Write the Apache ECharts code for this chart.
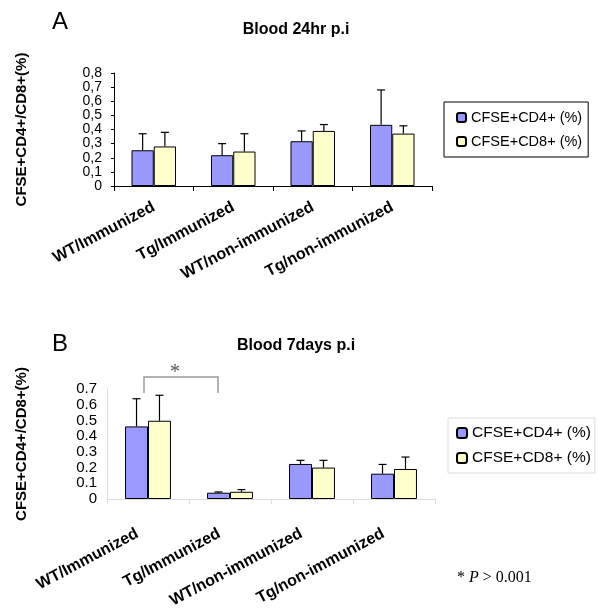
<!DOCTYPE html>
<html>
<head>
<meta charset="utf-8">
<script src="https://cdn.jsdelivr.net/npm/echarts@6/dist/echarts.min.js"></script>
<style>
html,body{margin:0;padding:0;background:#fff;}
#c{width:600px;height:615px;}
</style>
</head>
<body>
<div id="c"></div>
<script>
var categories = ['WT/Immunized', 'Tg/Immunized', 'WT/non-immunized', 'Tg/non-immunized'];
var seriesNames = ['CFSE+CD4+ (%)', 'CFSE+CD8+ (%)'];
// Panel A: Blood 24hr p.i
var aCD4 = [0.253, 0.218, 0.317, 0.433];
var aCD4Err = [0.37, 0.30, 0.39, 0.68];
var aCD8 = [0.28, 0.244, 0.39, 0.371];
var aCD8Err = [0.38, 0.37, 0.435, 0.426];
// Panel B: Blood 7days p.i
var bCD4 = [0.462, 0.04, 0.223, 0.161];
var bCD4Err = [0.638, 0.045, 0.246, 0.22];
var bCD8 = [0.498, 0.046, 0.20, 0.191];
var bCD8Err = [0.66, 0.06, 0.246, 0.267];
var aTicks = ['0', '0,1', '0,2', '0,3', '0,4', '0,5', '0,6', '0,7', '0,8'];
var bTicks = ['0', '0.1', '0.2', '0.3', '0.4', '0.5', '0.6', '0.7'];

var BAR_FRAC = 0.28;
function errSeries(name, xi, yi, vals, tops, side, color) {
  return {
    type: 'custom', name: name + '_err', xAxisIndex: xi, yAxisIndex: yi, z: 1,
    silent: true,
    data: vals.map(function (v, i) { return [i, v, tops[i]]; }),
    renderItem: function (params, api) {
      var p0 = api.coord([api.value(0), api.value(1)]);
      var p1 = api.coord([api.value(0), api.value(2)]);
      var cw = api.size([1, 0])[0];
      var x = p0[0] + side * cw * BAR_FRAC / 2;
      var cap = 4;
      return {
        type: 'group',
        children: [
          {type: 'line', shape: {x1: x, y1: p0[1], x2: x, y2: p1[1]}, style: {stroke: color, lineWidth: 1.2}},
          {type: 'line', shape: {x1: x - cap, y1: p1[1], x2: x + cap, y2: p1[1]}, style: {stroke: color, lineWidth: 1.2}}
        ]
      };
    }
  };
}
function barSeries(name, xi, yi, vals, color) {
  return {
    type: 'bar', name: name, xAxisIndex: xi, yAxisIndex: yi, data: vals, z: 2,
    barWidth: (BAR_FRAC * 100) + '%', barGap: '0%',
    itemStyle: {color: color, borderColor: '#000', borderWidth: 1},
    emphasis: {disabled: true}
  };
}
var FONT = 'Liberation Sans, Arial, sans-serif';
var chart = echarts.init(document.getElementById('c'), null, {renderer: 'canvas'});
var option = {
  animation: false,
  backgroundColor: '#fff',
  textStyle: {fontFamily: FONT},
  title: [
    {text: 'A', left: 47, top: 5, textStyle: {fontSize: 24, fontWeight: 'normal', color: '#000', fontFamily: FONT}},
    {text: 'Blood 24hr p.i', left: 291, top: 17, textAlign: 'center', textStyle: {fontSize: 16, fontWeight: 'bold', color: '#000', fontFamily: FONT}},
    {text: 'B', left: 47, top: 327, textStyle: {fontSize: 24, fontWeight: 'normal', color: '#000', fontFamily: FONT}},
    {text: 'Blood 7days p.i', left: 291, top: 333, textAlign: 'center', textStyle: {fontSize: 16, fontWeight: 'bold', color: '#000', fontFamily: FONT}}
  ],
  legend: [
    {
      data: [seriesNames[0], seriesNames[1]], orient: 'vertical', left: 444, top: 102,
      padding: [8, 6, 8, 12], itemGap: 9,
      borderColor: '#000', borderWidth: 1, itemWidth: 9, itemHeight: 9,
      textStyle: {fontSize: 14.5, color: '#000', fontFamily: FONT}, selectedMode: false
    },
    {
      data: [seriesNames[0], seriesNames[1]], orient: 'vertical', left: 448, top: 418,
      padding: [7, 4, 7, 8], itemGap: 9,
      borderColor: '#ddd', borderWidth: 1, itemWidth: 10, itemHeight: 10,
      textStyle: {fontSize: 15.5, color: '#000', fontFamily: FONT}, selectedMode: false
    }
  ],
  grid: [
    {left: 114, right: 168, top: 73, bottom: 429, containLabel: false},
    {left: 107, right: 165, top: 389, bottom: 116, containLabel: false}
  ],
  xAxis: [
    {
      type: 'category', gridIndex: 0, data: categories,
      axisLine: {lineStyle: {color: '#000', width: 1}},
      axisTick: {show: true, length: 5, lineStyle: {color: '#000'}},
      axisLabel: {rotate: 28, interval: 0, margin: 20, fontSize: 16, fontWeight: 'bold', color: '#000', fontFamily: FONT}
    },
    {
      type: 'category', gridIndex: 1, data: categories,
      axisLine: {lineStyle: {color: '#ddd', width: 1}},
      axisTick: {show: true, length: 5, lineStyle: {color: '#ddd'}},
      axisLabel: {rotate: 28, interval: 0, margin: 28, padding: [0, 12, 0, 0], fontSize: 16, fontWeight: 'bold', color: '#000', fontFamily: FONT}
    }
  ],
  yAxis: [
    {
      type: 'value', gridIndex: 0, min: 0, max: 0.8, interval: 0.1,
      name: 'CFSE+CD4+/CD8+(%)', nameLocation: 'middle', nameGap: 85, nameRotate: 90,
      nameTextStyle: {fontSize: 15, fontWeight: 'bold', color: '#000', fontFamily: FONT},
      axisLine: {show: true, lineStyle: {color: '#000'}},
      axisTick: {show: true, length: 3, lineStyle: {color: '#000'}},
      splitLine: {show: false},
      axisLabel: {margin: 12, fontSize: 14, lineHeight: 11, color: '#000', fontFamily: FONT, showMinLabel: true, showMaxLabel: true, hideOverlap: false,
        formatter: function (v) { return aTicks[Math.round(v * 10)]; }}
    },
    {
      type: 'value', gridIndex: 1, min: 0, max: 0.7, interval: 0.1,
      name: 'CFSE+CD4+/CD8+(%)', nameLocation: 'middle', nameGap: 78, nameRotate: 90,
      nameTextStyle: {fontSize: 15, fontWeight: 'bold', color: '#000', fontFamily: FONT},
      axisLine: {show: true, lineStyle: {color: '#ddd'}},
      axisTick: {show: false},
      splitLine: {show: false},
      axisLabel: {margin: 10, fontSize: 15, color: '#000', fontFamily: FONT, showMinLabel: true, showMaxLabel: true, hideOverlap: false,
        formatter: function (v) { return bTicks[Math.round(v * 10)]; }}
    }
  ],
  series: [
    barSeries(seriesNames[0], 0, 0, aCD4, '#9999FF'),
    barSeries(seriesNames[1], 0, 0, aCD8, '#FFFFCC'),
    errSeries(seriesNames[0], 0, 0, aCD4, aCD4Err, -1, '#000'),
    errSeries(seriesNames[1], 0, 0, aCD8, aCD8Err, 1, '#000'),
    barSeries(seriesNames[0], 1, 1, bCD4, '#9999FF'),
    barSeries(seriesNames[1], 1, 1, bCD8, '#FFFFCC'),
    errSeries(seriesNames[0], 1, 1, bCD4, bCD4Err, -1, '#000'),
    errSeries(seriesNames[1], 1, 1, bCD8, bCD8Err, 1, '#000')
  ],
  graphic: [
    {type: 'polyline', shape: {points: [[144, 393], [144, 377], [218, 377], [218, 393]]},
      style: {stroke: '#999', lineWidth: 1.5, fill: null}},
    {type: 'text', x: 175, y: 373, style: {text: '*', font: '20px Liberation Serif, serif', fill: '#555', textAlign: 'center', textVerticalAlign: 'middle'}},
    {type: 'text', x: 457, y: 570, style: {rich: {a: {font: '16px Liberation Serif, serif', fill: '#000'}, b: {font: 'italic 16px Liberation Serif, serif', fill: '#000'}}, text: '{a|* }{b|P}{a| > 0.001}'}}
  ]
};
chart.setOption(option);
</script>
</body>
</html>
